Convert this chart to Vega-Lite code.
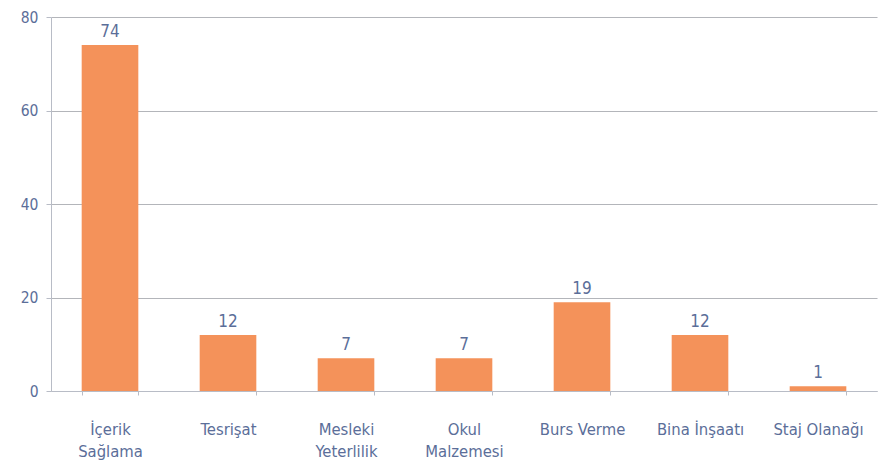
{
  "$schema": "https://vega.github.io/schema/vega-lite/v6.json",
  "autosize": "none",
  "width": 826,
  "height": 374,
  "padding": {"left": 51, "top": 17, "right": 1, "bottom": 77},
  "background": "white",
  "data": {
    "values": [
      {"kategori": "İçerik Sağlama", "sayi": 74},
      {"kategori": "Tesrişat", "sayi": 12},
      {"kategori": "Mesleki Yeterlilik", "sayi": 7},
      {"kategori": "Okul Malzemesi", "sayi": 7},
      {"kategori": "Burs Verme", "sayi": 19},
      {"kategori": "Bina İnşaatı", "sayi": 12},
      {"kategori": "Staj Olanağı", "sayi": 1}
    ]
  },
  "config": {
    "view": {"stroke": null},
    "font": "DejaVu Sans Condensed"
  },
  "encoding": {
    "x": {
      "field": "kategori",
      "type": "nominal",
      "sort": null,
      "scale": {"paddingInner": 0.52, "paddingOuter": 0.26},
      "axis": {
        "title": null,
        "labelAngle": 0,
        "labelFont": "DejaVu Sans Condensed",
        "labelFontSize": 16.5,
        "labelColor": "#5b6e99",
        "labelPadding": 26,
        "labelLineHeight": 22,
        "tickBand": "extent",
        "tickColor": "#b8bcc6",
        "tickSize": 4,
        "domainColor": "#b8bcc6",
        "labelExpr": "datum.label == 'İçerik Sağlama' ? ['İçerik','Sağlama'] : datum.label == 'Mesleki Yeterlilik' ? ['Mesleki','Yeterlilik'] : datum.label == 'Okul Malzemesi' ? ['Okul','Malzemesi'] : datum.label"
      }
    },
    "y": {
      "field": "sayi",
      "type": "quantitative",
      "scale": {"domain": [0, 80], "nice": false},
      "axis": {
        "title": null,
        "values": [0, 20, 40, 60, 80],
        "labelFont": "DejaVu Sans Condensed",
        "labelFontSize": 15.5,
        "labelColor": "#5b6e99",
        "labelPadding": 8,
        "tickSize": 5,
        "tickColor": "#b8bcc6",
        "domainColor": "#b8bcc6",
        "gridColor": "#b3b5ba",
        "gridWidth": 1.2
      }
    }
  },
  "layer": [
    {
      "mark": {"type": "bar", "color": "#f4925a"}
    },
    {
      "mark": {
        "type": "text",
        "baseline": "bottom",
        "dy": -4,
        "font": "DejaVu Sans Condensed",
        "fontSize": 17,
        "color": "#5b6e99"
      },
      "encoding": {"text": {"field": "sayi", "type": "quantitative"}}
    }
  ]
}
